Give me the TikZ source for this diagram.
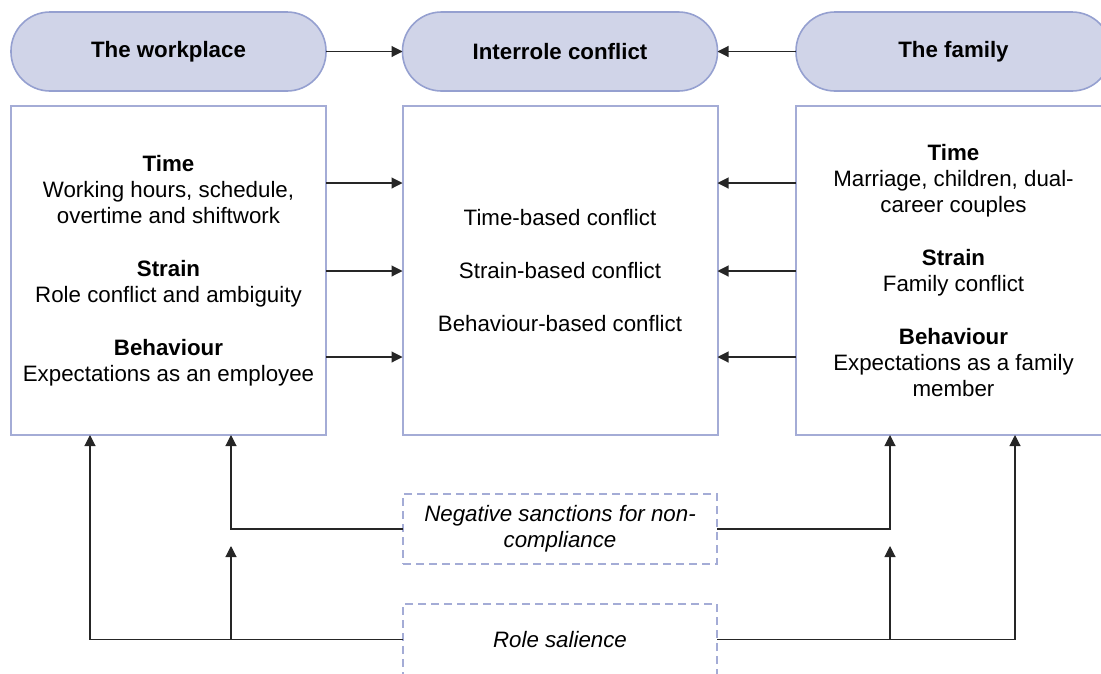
\documentclass[tikz,border=0pt]{standalone}
\usepackage{fontspec}
\setmainfont{Liberation Sans}
\usetikzlibrary{arrows.meta}
\definecolor{pillfill}{HTML}{D0D4E8}
\definecolor{pillline}{HTML}{95A0D0}
\definecolor{boxline}{HTML}{A4ACD6}
\definecolor{wire}{HTML}{262626}
\begin{document}
\begin{tikzpicture}[x=1pt,y=-1pt,
  font=\fontsize{22.3}{26.3}\selectfont,
  pill/.style={draw=pillline,fill=pillfill,line width=1.6pt,rounded corners=39pt,
    minimum width=315pt,minimum height=79pt,inner sep=0pt,outer sep=0pt,font=\fontsize{22.3}{26.3}\selectfont\bfseries},
  panel/.style={draw=boxline,line width=2pt,minimum width=315pt,minimum height=329pt,
    inner sep=0pt,outer sep=0pt,align=center},
  dashbox/.style={draw=boxline,line width=1.6pt,dash pattern=on 8pt off 5pt,
    minimum width=314pt,inner sep=0pt,outer sep=0pt,align=center,
    font=\fontsize{22.3}{26.3}\selectfont\itshape},
  arr/.style={draw=wire,line width=1.1pt,-{Triangle[length=11pt,width=11pt]}},
  wire/.style={draw=wire,line width=1.1pt}]
\useasboundingbox (0,0) rectangle (1101,673);
\clip (0,0) rectangle (1101,673);

% header pills
\node[pill] (wp)  at (168.5,51.5) {The workplace};
\node[pill] (ic)  at (560,51.5)   {Interrole conflict};
\node[pill] (fam) at (953.5,51.5) {The family};

% content panels
\node[panel] (lb) at (168.5,270.5) {\textbf{Time}\\Working hours, schedule,\\overtime and shiftwork\\[26.3pt]
  \textbf{Strain}\\Role conflict and ambiguity\\[26.3pt]
  \textbf{Behaviour}\\Expectations as an employee};
\node[panel] (cb) at (560,270.5) {Time-based conflict\\[26.3pt]Strain-based conflict\\[26.3pt]Behaviour-based conflict};
\node[panel] (rb) at (953.5,270.5) {\textbf{Time}\\Marriage, children, dual-\\career couples\\[26.3pt]
  \textbf{Strain}\\Family conflict\\[26.3pt]
  \textbf{Behaviour}\\Expectations as a family\\member};

% moderators
\node[dashbox,minimum height=70pt] (ns) at (560,529) {Negative sanctions for non-\\compliance};
\node[dashbox,minimum height=71pt] (rs) at (560,639.5) {Role salience};

% header arrows
\draw[arr] (wp.east) -- (ic.west);
\draw[arr] (fam.west) -- (ic.east);

% panel arrows
\foreach \yy in {183,271,357} {
  \draw[arr] (lb.east |- 0,\yy) -- (cb.west |- 0,\yy);
  \draw[arr] (rb.west |- 0,\yy) -- (cb.east |- 0,\yy);
}

% feedback from the moderators
\coordinate (lmid) at (231,546);
\coordinate (rmid) at (890,546);
\draw[arr] (rs.west) -| (lb.south -| 90,0);
\draw[arr] (ns.west) -| (lb.south -| 231,0);
\draw[arr] (rs.west -| 231,0) -- (lmid);
\draw[arr] (ns.east) -| (rb.south -| 890,0);
\draw[arr] (rs.east) -| (rb.south -| 1015,0);
\draw[arr] (rs.east -| 890,0) -- (rmid);
\end{tikzpicture}
\end{document}
